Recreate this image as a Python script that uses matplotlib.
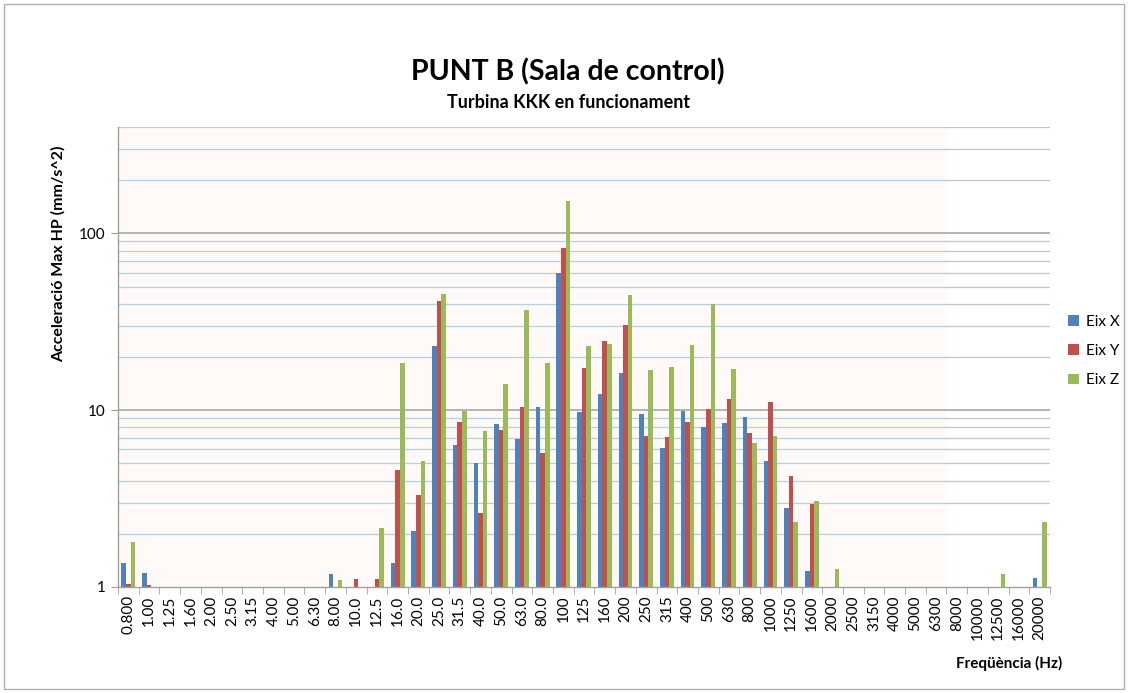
import numpy as np
import matplotlib
matplotlib.use("Agg")
import matplotlib.pyplot as plt
from matplotlib.patches import Rectangle

nan = np.nan
categories = ["0.800", "1.00", "1.25", "1.60", "2.00", "2.50", "3.15", "4.00", "5.00", "6.30",
              "8.00", "10.0", "12.5", "16.0", "20.0", "25.0", "31.5", "40.0", "50.0", "63.0",
              "80.0", "100", "125", "160", "200", "250", "315", "400", "500", "630",
              "800", "1000", "1250", "1600", "2000", "2500", "3150", "4000", "5000", "6300",
              "8000", "10000", "12500", "16000", "20000"]

eix_x = [1.37, 1.20, nan, nan, nan, nan, nan, nan, nan, nan,
         1.19, nan, nan, 1.36, 2.07, 23.1, 6.34, 5.04, 8.33, 6.83,
         10.4, 59.7, 9.78, 12.4, 16.2, 9.53, 6.15, 9.87, 8.05, 8.41,
         9.13, 5.17, 2.78, 1.23, nan, nan, nan, nan, nan, nan,
         nan, nan, nan, nan, 1.12]
eix_y = [1.04, 1.02, nan, nan, nan, nan, nan, nan, nan, nan,
         nan, 1.11, 1.11, 4.58, 3.31, 41.3, 8.52, 2.63, 7.71, 10.4,
         5.69, 83.0, 17.3, 24.5, 30.2, 7.16, 7.07, 8.59, 10.2, 11.5,
         7.41, 11.1, 4.25, 2.94, nan, nan, nan, nan, nan, nan,
         nan, nan, nan, nan, nan]
eix_z = [1.79, nan, nan, nan, nan, nan, nan, nan, nan, nan,
         1.10, nan, 2.15, 18.5, 5.15, 45.6, 9.87, 7.58, 14.0, 36.7,
         18.4, 151.6, 23.1, 23.8, 44.6, 16.8, 17.6, 23.3, 39.7, 17.2,
         6.48, 7.16, 2.33, 3.06, 1.26, nan, nan, nan, nan, nan,
         nan, nan, 1.19, nan, 2.33]

series_names = ["Eix X", "Eix Y", "Eix Z"]
series_colors = ["#4F81BD", "#C0504D", "#9BBB59"]

title = "PUNT B (Sala de control)"
subtitle = "Turbina KKK en funcionament"
ylabel = "Acceleració Max HP (mm/s^2)"
xlabel = "Freqüència (Hz)"

plt.rcParams['font.family'] = ['Lato', 'DejaVu Sans']

fig = plt.figure(figsize=(11.28, 6.93), dpi=100)
ax = fig.add_axes([0.1046, 0.1530, 0.8263, 0.6638])

n = len(categories)
x = np.arange(n)
bw = 1 / 4.5
base = 1.0
for k, (vals, col, name) in enumerate(zip([eix_x, eix_y, eix_z], series_colors, series_names)):
    v = np.array(vals, dtype=float)
    ax.bar(x + (k - 1) * bw, v - base, bottom=base, width=bw, color=col, label=name,
           zorder=3, linewidth=0)

ax.set_yscale('log')
ax.set_ylim(1, 400)
ax.set_xlim(-0.5, n - 0.5)

# faint background band and gridlines
shade_end = categories.index("6300") + 0.5
ax.axvspan(-0.5, shade_end, color='#fffaf8', zorder=0, linewidth=0)
minor_vals = [m * d for d in (1, 10, 100) for m in range(2, 10) if m * d <= 400]
major_vals = [1, 10, 100]
for yv in minor_vals:
    ax.plot([-0.5, shade_end], [yv, yv], color='#b3d1e3', lw=0.9, zorder=1)
    ax.plot([shade_end, n - 0.5], [yv, yv], color='#c4c4c4', lw=0.9, zorder=1)
for yv in major_vals[1:]:
    ax.plot([-0.5, n - 0.5], [yv, yv], color='#a8b0b0', lw=1.3, zorder=1)

ax.set_yticks(major_vals)
ax.set_yticklabels([str(v) for v in major_vals])
ax.yaxis.set_minor_locator(matplotlib.ticker.NullLocator())
ax.tick_params(axis='y', length=5, color='#a0a0a0', labelsize=11, pad=4)

ax.set_xticks(x)
ax.set_xticklabels(categories, rotation=90, fontsize=11)
ax.set_xticks(np.arange(-0.5, n, 1), minor=True)
ax.tick_params(axis='x', which='major', length=0, pad=6)
ax.tick_params(axis='x', which='minor', length=5, color='#a0a0a0')

for s in ['top', 'right']:
    ax.spines[s].set_visible(False)
for s in ['left', 'bottom']:
    ax.spines[s].set_color('#a0a0a0')
    ax.spines[s].set_linewidth(1.0)
    ax.spines[s].set_zorder(4)

fig.text(568 / 1128, 1 - 72 / 693, title, ha='center', va='center', fontsize=20.5, fontweight='bold')
fig.text(569 / 1128, 1 - 102 / 693, subtitle, ha='center', va='center', fontsize=13, fontweight='bold')
fig.text(58 / 1128, 1 - 254 / 693, ylabel, ha='center', va='center', rotation=90,
         fontsize=11.5, fontweight='bold')
fig.text(1009 / 1128, 1 - 663 / 693, xlabel, ha='center', va='center', fontsize=11,
         fontweight='bold')

leg = fig.legend(loc='center left', bbox_to_anchor=(1062 / 1128, 1 - 351 / 693), frameon=False,
                 fontsize=11, handlelength=0.7, handleheight=0.7, handletextpad=0.5,
                 labelspacing=1.0, borderaxespad=0)

fig.patches.append(Rectangle((4 / 1128, 4 / 693), 1 - 8 / 1128, 1 - 8 / 693, transform=fig.transFigure,
                             fill=False, edgecolor='#b0b0b0', linewidth=1.0))

fig.savefig("out.png", dpi=100)
